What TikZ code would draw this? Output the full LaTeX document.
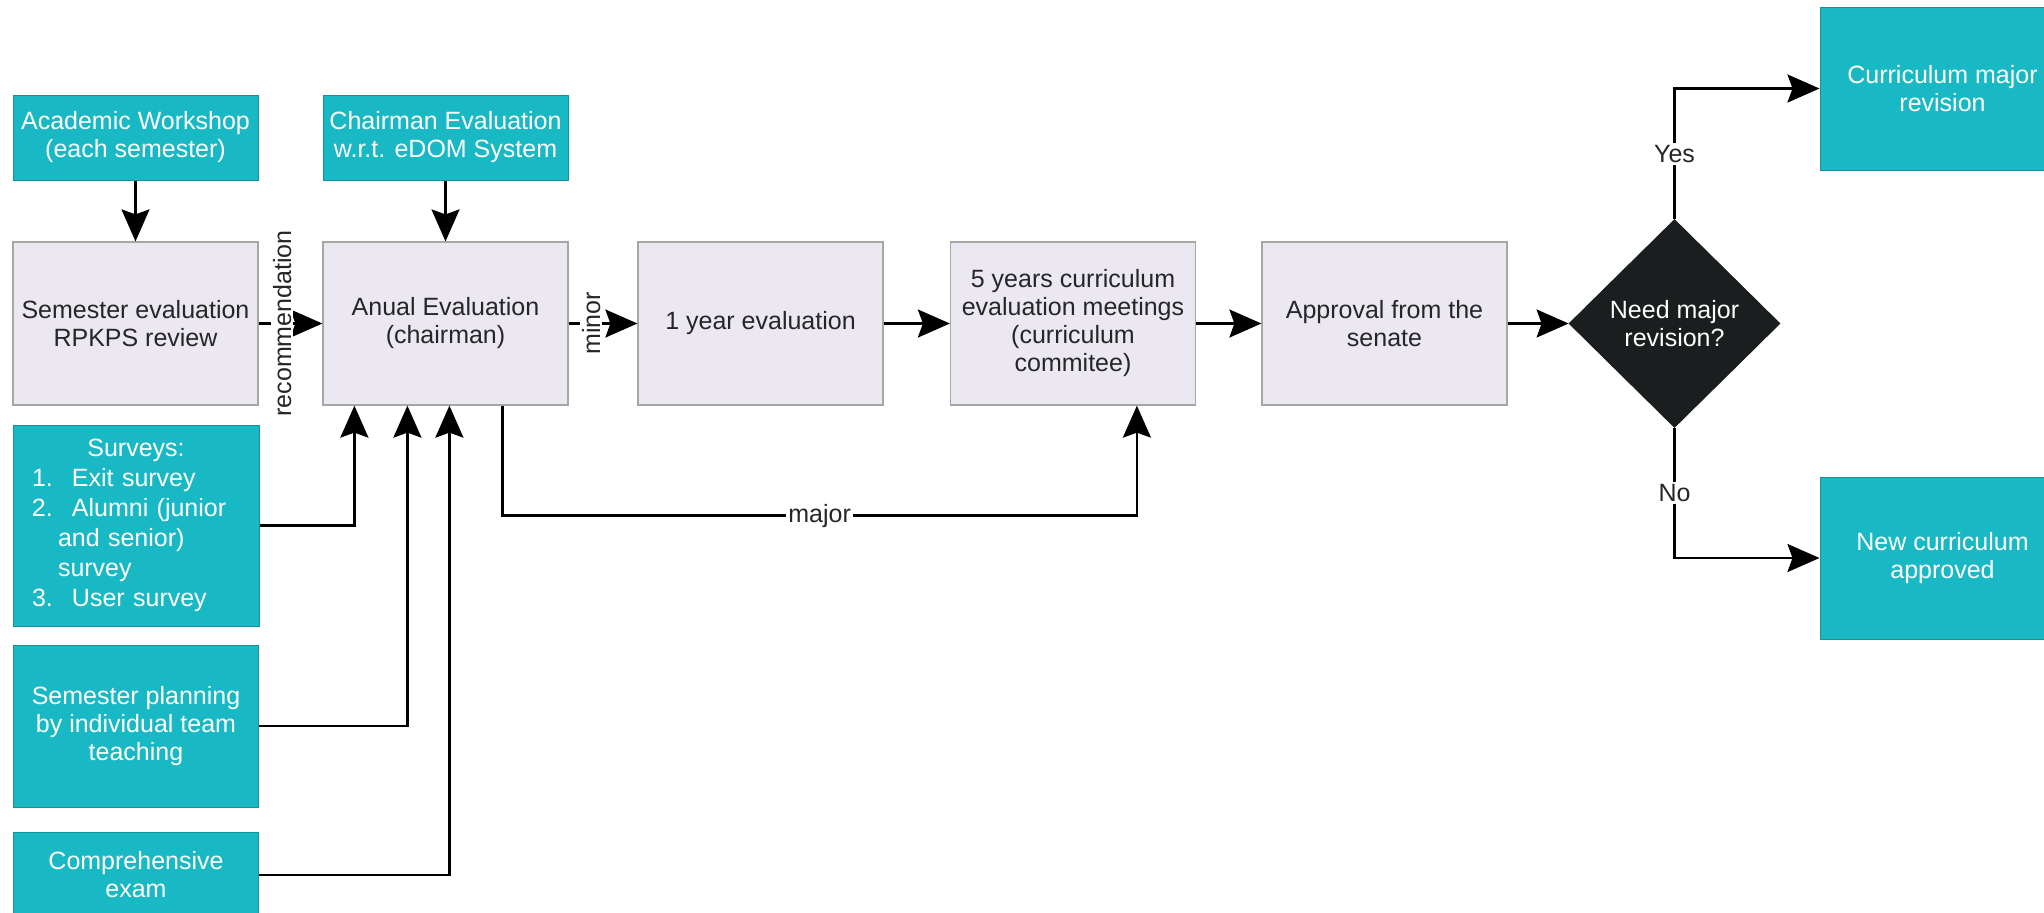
\documentclass[tikz,border=0pt]{standalone}
\usepackage{fontspec}
\setmainfont{Liberation Sans}
\usetikzlibrary{shapes.geometric,arrows.meta,calc}
\definecolor{tealbox}{RGB}{24,185,196}
\definecolor{lavbox}{RGB}{236,232,242}
\definecolor{darkd}{RGB}{27,30,30}
\begin{document}
\begin{tikzpicture}[x=0.5pt,y=-0.5pt,
 base/.style={rectangle, minimum width=122.5pt, align=center, font=\fontsize{12.5}{14}\selectfont, inner sep=2pt},
 light/.style={base, fill=lavbox, draw=gray!70, line width=0.6pt, text=black!85},
 tealb/.style={base, fill=tealbox, draw=tealbox!80!black, line width=0.5pt, text=white},
 arr/.style={draw=black, line width=1.2pt, -{Stealth[length=16pt,width=14pt,inset=2.5pt]}},
 lab/.style={fill=white, inner sep=1pt, font=\fontsize{12.5}{14}\selectfont, text=black!85},
]
\useasboundingbox (0,0) rectangle (2044,912);

% top inputs
\node[tealb, minimum height=42.5pt] (AW) at (135.5,137.5) {Academic Workshop\\(each semester)};
\node[tealb, minimum height=42.5pt] (CE) at (445.5,137.5) {Chairman Evaluation\\w.r.t. eDOM System};

% main row
\node[light, minimum height=81.5pt] (SE) at (135.5,323.5) {Semester evaluation\\RPKPS review};
\node[light, minimum height=81.5pt] (AE) at (445.5,323.5) {Anual Evaluation\\(chairman)};
\node[light, minimum height=81.5pt] (OY) at (760.5,323.5) {1 year evaluation};
\node[light, minimum height=81.5pt] (FY) at (1073,323.5) {5 years curriculum\\evaluation meetings\\(curriculum\\commitee)};
\node[light, minimum height=81.5pt] (AP) at (1384.5,323.5) {Approval from the\\senate};
\node[diamond, fill=darkd, draw=darkd, text=white, minimum width=105.5pt, minimum height=104pt, inner sep=0pt, align=center, font=\fontsize{12.5}{14}\selectfont] (D) at (1674.5,323.5) {Need major\\revision?};

% outcomes
\node[tealb, minimum height=81.5pt] (CM) at (1942.5,88.5) {Curriculum major\\revision};
\node[tealb, minimum height=81pt] (NC) at (1942.5,558) {New curriculum\\approved};

% left inputs
\node[tealb, minimum height=100.5pt, text width=123pt, align=left, inner xsep=0pt, font=\fontsize{12.5}{15}\selectfont] (SV) at (136,525.5)
 {\makebox[123pt]{Surveys:}\\
  \hspace*{9.5pt}\makebox[20pt][l]{1.}Exit survey\\
  \hspace*{9.5pt}\makebox[20pt][l]{2.}Alumni (junior\\
  \hspace*{22.5pt}and senior)\\
  \hspace*{22.5pt}survey\\
  \hspace*{9.5pt}\makebox[20pt][l]{3.}User survey};
\node[tealb, minimum height=81pt] (SP) at (136,726) {Semester planning\\by individual team\\teaching};
\node[tealb, minimum height=43pt] (CX) at (136,875) {Comprehensive\\exam};

% connectors
\draw[arr] (AW.south) -- (SE.north);
\draw[arr] (CE.south) -- (AE.north);
\draw[arr] (SE.east) -- node[lab, rotate=90, pos=0.37]{recommendation} (AE.west);
\draw[arr] (AE.east) -- node[lab, rotate=90, pos=0.33]{minor} (OY.west);
\draw[arr] (OY.east) -- (FY.west);
\draw[arr] (FY.east) -- (AP.west);
\draw[arr] (AP.east) -- (D.west);
\draw[arr] (D.north) |- node[lab, pos=0.25]{Yes} (CM.west);
\draw[arr] (D.south) |- node[lab, pos=0.25]{No} (NC.west);
\draw[arr] (SV.east) -| ([xshift=16pt]AE.south west);
\draw[arr] (SP.east) -| ([xshift=42.5pt]AE.south west);
\draw[arr] (CX.east) -| ([xshift=63.5pt]AE.south west);
\draw[arr] ([xshift=90pt]AE.south west) -- ++(0,-55pt) -| node[lab, pos=0.25]{major} ([xshift=93.5pt]FY.south west);
\end{tikzpicture}
\end{document}
